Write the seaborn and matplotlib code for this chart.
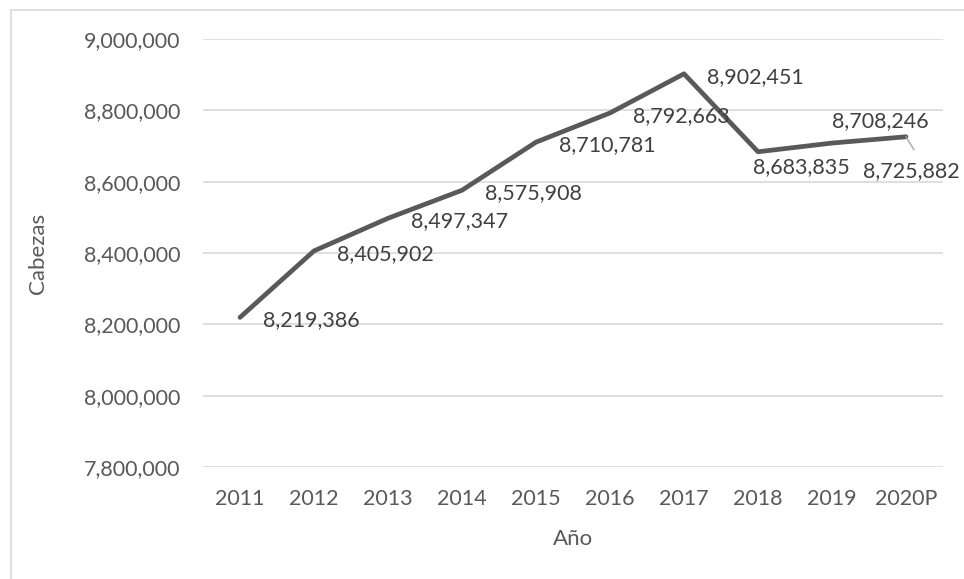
import matplotlib
matplotlib.use("Agg")
import matplotlib.pyplot as plt
import seaborn as sns
import pandas as pd
from matplotlib.lines import Line2D

years = ["2011", "2012", "2013", "2014", "2015", "2016", "2017", "2018", "2019", "2020P"]
heads = [8219386, 8405902, 8497347, 8575908, 8710781, 8792663, 8902451, 8683835, 8708246, 8725882]
yticks = [7800000, 8000000, 8200000, 8400000, 8600000, 8800000, 9000000]

sns.set_theme(style="white")
plt.rcParams["font.family"] = ["Lato", "DejaVu Sans"]

df = pd.DataFrame({"Año": years, "Cabezas": heads})

fig = plt.figure(figsize=(9.64, 5.79), dpi=100)
ax = fig.add_axes([203/964, 112/579, 740/964, 428/579])

sns.lineplot(data=df, x="Año", y="Cabezas", sort=False, color="#595959",
             linewidth=3.4, ax=ax, clip_on=False)

ax.set_xlim(-0.5, len(years) - 0.5)
ax.set_ylim(7800000, 9000000)
ax.set_yticks(yticks)
ax.set_yticklabels([f"{v:,}" for v in yticks])
ax.grid(axis="y", color="#d9d9d9", linewidth=1.2)
ax.set_axisbelow(True)
for s in ax.spines.values():
    s.set_visible(False)
ax.tick_params(axis="y", length=0, pad=16, labelsize=15.5, labelcolor="#595959")
ax.tick_params(axis="x", length=0, pad=16, labelsize=15.5, labelcolor="#595959")
ax.set_xlabel("Año", fontsize=16, color="#595959", labelpad=14)
ax.set_ylabel("Cabezas", fontsize=16, color="#595959", labelpad=26)

# label offsets in pixels (dx to left edge, dy downwards)
px = 0.72
offsets = [(23, 3)] * 7 + [(-5, 15), (0, -22), (-43, 34)]
for i, (yr, v) in enumerate(zip(years, heads)):
    dx, dy = offsets[i]
    ax.annotate(f"{v:,}", xy=(i, v), xytext=(dx * px, -dy * px), textcoords="offset points",
                ha="left", va="center", fontsize=15.5, color="#404040",
                annotation_clip=False)

# leader line for last label
ax.annotate("", xy=(9, heads[9]), xytext=(8 * px, -13 * px), textcoords="offset points",
            arrowprops=dict(arrowstyle="-", color="#a6a6a6", lw=1.0, shrinkA=0, shrinkB=0),
            annotation_clip=False)

# chart frame
fig.add_artist(Line2D([11/964, 11/964], [0, 1 - 10/579], transform=fig.transFigure,
                      color="#d9d9d9", linewidth=1.2))
fig.add_artist(Line2D([11/964, 1], [1 - 10/579, 1 - 10/579], transform=fig.transFigure,
                      color="#d9d9d9", linewidth=1.2))

fig.savefig("out.png", dpi=100)
